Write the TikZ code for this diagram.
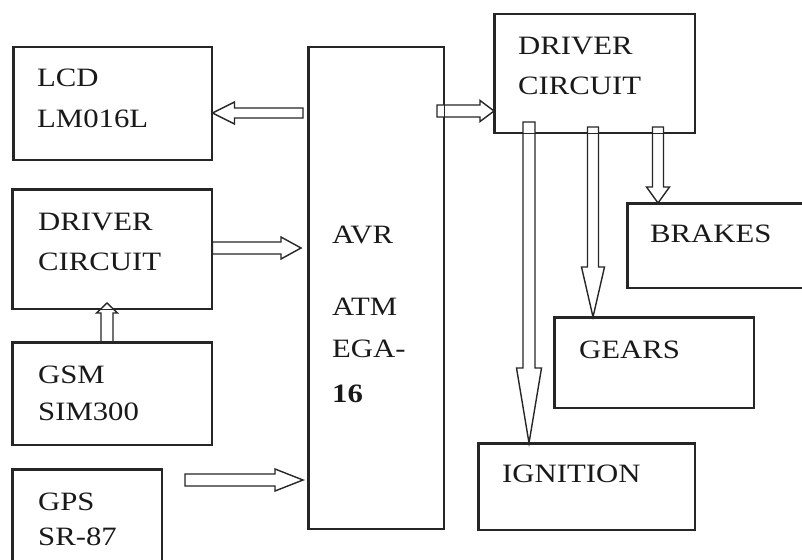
\documentclass[tikz,border=0pt]{standalone}
\usepackage{fontspec}
\setmainfont{Liberation Serif}
\usepackage{graphicx}
\usetikzlibrary{calc}
\tikzset{
  box/.style={draw=black!85, line width=1.5pt, anchor=north west, inner sep=0pt},
  txt/.style={anchor=base west, inner sep=0pt, font=\fontsize{26.5}{30}\selectfont, text=black!90},
  blk/.style={draw=black!85, line width=1.4pt, fill=white, line join=miter},
}
\newcommand\W[1]{\scalebox{1.16}[1]{#1}}
% block arrow: #1 half shaft width, #2 half head width, #3 head length, #4 start, #5 end
\newcommand\blockarrow[5]{%
  \draw[blk] let \p1=#4, \p2=#5,
    \n1={veclen(\x2-\x1,\y2-\y1)},
    \n2={(\x2-\x1)/(\n1)}, \n3={(\y2-\y1)/(\n1)} in
    ({\x1-(\n3)*(#1pt)},{\y1+(\n2)*(#1pt)})
    -- ({\x2-(\n2)*(#3pt)-(\n3)*(#1pt)},{\y2-(\n3)*(#3pt)+(\n2)*(#1pt)})
    -- ({\x2-(\n2)*(#3pt)-(\n3)*(#2pt)},{\y2-(\n3)*(#3pt)+(\n2)*(#2pt)})
    -- (\p2)
    -- ({\x2-(\n2)*(#3pt)+(\n3)*(#2pt)},{\y2-(\n3)*(#3pt)-(\n2)*(#2pt)})
    -- ({\x2-(\n2)*(#3pt)+(\n3)*(#1pt)},{\y2-(\n3)*(#3pt)-(\n2)*(#1pt)})
    -- ({\x1+(\n3)*(#1pt)},{\y1-(\n2)*(#1pt)})
    -- cycle;}
\begin{document}
\begin{tikzpicture}[x=1pt,y=-1pt]
\useasboundingbox (0,0) rectangle (802,559);
\fill[white] (0,0) rectangle (802,559);

% box positions (nodes, drawn empty)
\node[box, minimum width=198pt, minimum height=112pt] (lcd) at (13,47) {};
\node[box, minimum width=199pt, minimum height=119pt] (drvL) at (12,189) {};
\node[box, minimum width=199pt, minimum height=102pt] (gsm) at (12,342) {};
\node[box, minimum width=149pt, minimum height=110pt] (gps) at (12,469) {};
\node[box, minimum width=135pt, minimum height=481pt] (avr) at (308,47) {};
\node[box, minimum width=200pt, minimum height=118pt] (drvR) at (494,14) {};
\node[box, minimum width=190pt, minimum height=84pt] (brakes) at (627,203) {};
\node[box, minimum width=199pt, minimum height=90pt] (gears) at (554,317) {};
\node[box, minimum width=216pt, minimum height=86pt] (ign) at (478,443) {};

% arrow end coordinates
\coordinate (a1) at (303,113);
\coordinate (a2) at (301,248);
\coordinate (a3) at (107,303);
\coordinate (a4s) at (185,480);
\coordinate (a4e) at (303,480);
\coordinate (a5) at (437,111);
\coordinate (a6) at (658,127);
\coordinate (a7) at (593,127);
\coordinate (a8) at (529,122);

% arrows
\blockarrow{5}{11}{22}{(a1)}{(lcd.east|-a1)}
\blockarrow{6}{11}{20}{(drvL.east|-a2)}{(a2)}
\blockarrow{6}{10.5}{10}{(a3|-gsm.north)}{(a3)}
\blockarrow{6}{11}{28}{(a4s)}{(a4e)}
\blockarrow{6}{10.5}{14}{(a5)}{(drvR.west|-a5)}
\blockarrow{5.5}{11.5}{16}{(a6)}{(a6|-brakes.north)}
\blockarrow{5.5}{11.5}{50}{(a7)}{(a7|-gears.north)}
\blockarrow{6}{12.5}{75}{(a8)}{(a8|-ign.north)}

% redraw box borders on top
\foreach \b in {lcd,drvL,gsm,gps,avr,drvR,brakes,gears,ign}
  \draw[draw=black!85, line width=1.5pt] (\b.north west) rectangle (\b.south east);

% texts
\node[txt] (t1) at (37,87) {\W{LCD}};
\node[txt] (t2) at (37,128) {\W{LM016L}};
\node[txt] (t3) at (38,230) {\W{DRIVER}};
\node[txt] (t4) at (38,270) {\W{CIRCUIT}};
\node[txt] (t5) at (38,383) {\W{GSM}};
\node[txt] (t6) at (38,420) {\W{SIM300}};
\node[txt] (t7) at (38,510) {\W{GPS}};
\node[txt] (t8) at (38,545) {\W{SR-87}};
\node[txt] (t9) at (332,243) {\W{AVR}};
\node[txt] (t10) at (332,315) {\W{ATM}};
\node[txt] (t11) at (332,357) {\W{EGA-}};
\node[txt] (t12) at (332,402) {\W{\bfseries 16}};
\node[txt] (t13) at (518,55) {\W{DRIVER}};
\node[txt] (t14) at (518,95) {\W{CIRCUIT}};
\node[txt] (t15) at (650,242) {\W{BRAKES}};
\node[txt] (t16) at (579,358) {\W{GEARS}};
\node[txt] (t17) at (502,482) {\W{IGNITION}};
\end{tikzpicture}
\end{document}
